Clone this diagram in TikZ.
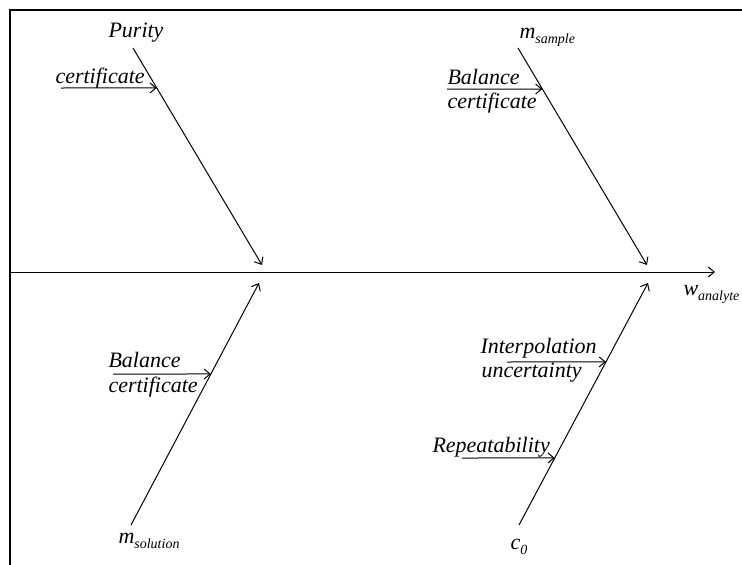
\documentclass[tikz,border=0pt]{standalone}
\usepackage{fontspec}
\setmainfont{Liberation Serif}
\usetikzlibrary{arrows,arrows.meta,positioning,calc}
\newcommand{\withsub}[2]{#1\raisebox{-5pt}{\fontsize{14}{14}\selectfont #2}}

\begin{document}
\begin{tikzpicture}
[x=1pt,y=-1pt,line width=1pt,>={Straight Barb[length=6pt,width=10pt]},
every node/.style={inner sep=0pt,font=\fontsize{22}{26}\selectfont\itshape},
causetext/.style={anchor=base west},
bone/.style={->},
twig/.style={->}]
\useasboundingbox (0,0) rectangle (742,565);
\draw[line width=2.5pt] (10,565) -- (10,10) -- (742,10);

% spine
\coordinate (axisStart) at (10,272);
\coordinate (axisEnd) at (715,272);
\node[causetext] (wan) at (683,295) {\withsub{w}{analyte}};
\draw[bone] (axisStart) -- (axisEnd);

% purity
\node[anchor=base] (purity) at (136,37) {Purity};
\coordinate (purS) at (133,48);
\coordinate (purE) at (262,265);
\draw[bone] (purS) -- (purE);
\node[causetext] (cert1) at (55,83) {certificate};
\coordinate (t1s) at (61,88);
\coordinate (t1e) at ($(purS)!.184!(purE)$);
\draw[twig] (t1s) -- (t1e);

% m sample
\node[causetext] (msample) at (519,38) {\withsub{m}{sample}};
\coordinate (msS) at (518,48);
\coordinate (msE) at (647,265);
\draw[bone] (msS) -- (msE);
\node[causetext] (bal2) at (447,84) {Balance};
\node[causetext] (cert2) at (447,108) {certificate};
\coordinate (t2s) at (447,89);
\coordinate (t2e) at ($(msS)!.189!(msE)$);
\draw[twig] (t2s) -- (t2e);

% m solution
\node[causetext] (msol) at (118,543) {\withsub{m}{solution}};
\coordinate (mlS) at (131,525);
\coordinate (mlE) at (259,283);
\draw[bone] (mlS) -- (mlE);
\node[causetext] (bal3) at (108,367) {Balance};
\node[causetext] (cert3) at (108,392) {certificate};
\coordinate (t3s) at (113,374);
\coordinate (t3e) at ($(mlS)!.624!(mlE)$);
\draw[twig] (t3s) -- (t3e);

% c0
\node[causetext] (czero) at (510,549) {\withsub{c}{0}};
\coordinate (c0S) at (519,525);
\coordinate (c0E) at (648,283);
\draw[bone] (c0S) -- (c0E);
\node[causetext] (interp) at (480,353) {Interpolation};
\node[causetext] (unc) at (481,377) {uncertainty};
\coordinate (t4s) at (507,362);
\coordinate (t4e) at ($(c0S)!.674!(c0E)$);
\draw[twig] (t4s) -- (t4e);
\node[causetext] (rep) at (432,452) {Repeatability};
\coordinate (t5s) at (462,458);
\coordinate (t5e) at ($(c0S)!.277!(c0E)$);
\draw[twig] (t5s) -- (t5e);
\end{tikzpicture}
\end{document}
